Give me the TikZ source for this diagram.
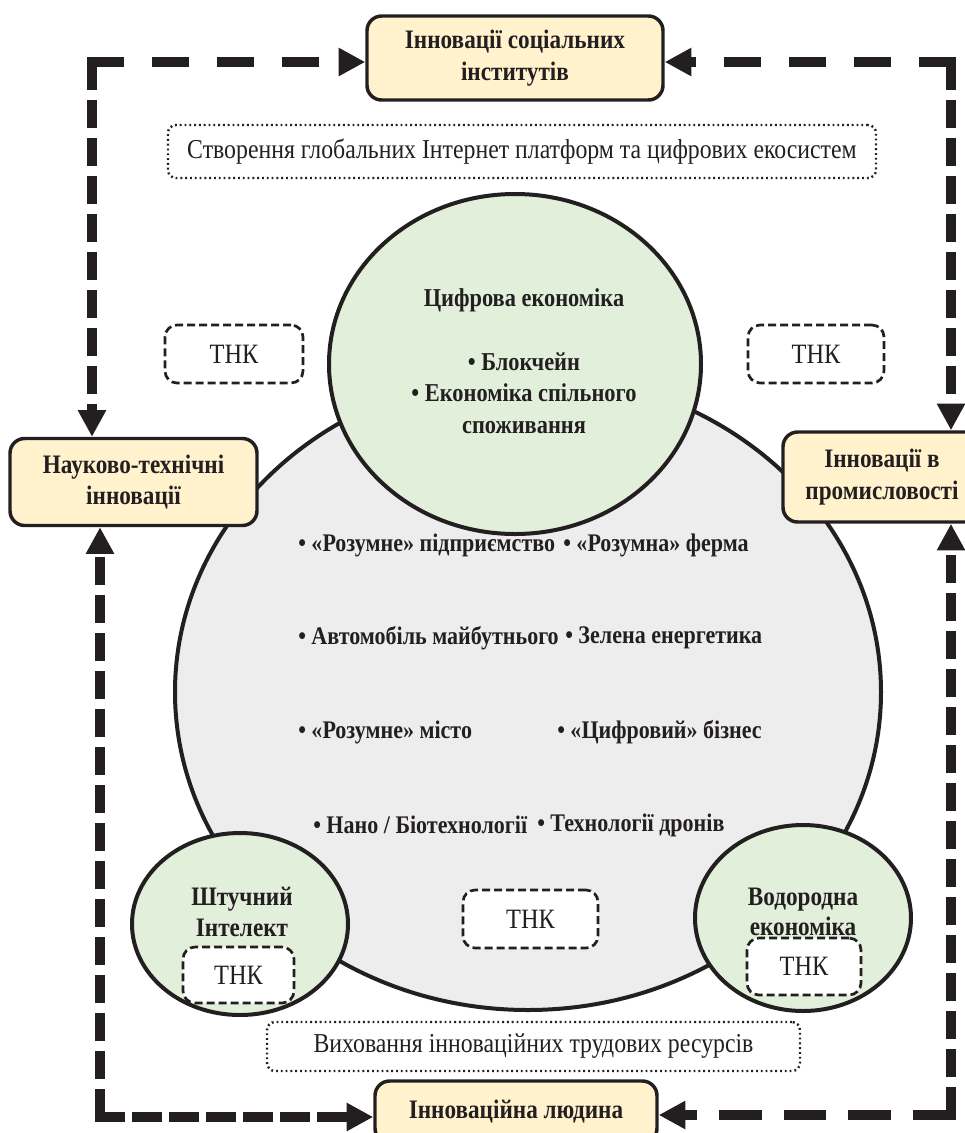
\documentclass[tikz,border=0pt]{standalone}
\usepackage{fontspec}
\setmainfont{Liberation Serif}[FakeStretch=0.87]
\usetikzlibrary{arrows.meta,calc,shapes.geometric}
\definecolor{ink}{HTML}{231F20}
\definecolor{cream}{HTML}{FFF2CC}
\definecolor{mint}{HTML}{E2EFDA}
\definecolor{lgray}{HTML}{EDEDED}
\begin{document}
\begin{tikzpicture}[x=0.75pt,y=-0.75pt,
  every node/.style={text=ink, inner sep=0pt},
  ybox/.style={draw=ink, line width=2.6pt, fill=cream, rounded corners=11pt, align=center,
    font=\bfseries\fontsize{20}{23.5}\selectfont},
  tnk/.style={draw=ink, line width=2pt, dash pattern=on 6pt off 3pt, fill=white, rounded corners=9pt,
    font=\fontsize{21}{24}\selectfont},
  dotbox/.style={draw=ink, line width=1.8pt, dash pattern=on 1.4pt off 2.2pt, rounded corners=6pt,
    font=\fontsize{20.5}{24}\selectfont},
  blob/.style={draw=ink, line width=3pt, ellipse},
  item/.style={anchor=west, font=\bfseries\fontsize{19}{22}\selectfont},
  ctext/.style={align=center, font=\bfseries\fontsize{19.3}{23.6}\selectfont},
  stext/.style={align=center, font=\bfseries\fontsize{20}{23}\selectfont},
  flow/.style={draw=ink, line width=7pt, -{Triangle[length=20pt,width=20pt]}},
  hdash/.style={dash pattern=on 27.75pt off 21pt},
  vdash/.style={dash pattern=on 21pt off 7.5pt},
]
\clip (0,0) rectangle (965,1133);

% big grey circle and green circles
\node[blob, fill=lgray, minimum width=529.5pt, minimum height=477pt] (core) at (528,692) {};
\node[blob, fill=mint, minimum width=279pt, minimum height=255pt] (digital) at (515,364) {};
\node[blob, fill=mint, minimum width=162pt, minimum height=136.5pt] (ai) at (240,924) {};
\node[blob, fill=mint, minimum width=162pt, minimum height=139.5pt] (hydro) at (803,918) {};

% texts in circles
\node[ctext] (digitalT) at (524,300) {Цифрова економіка};
\node[ctext] (digitalL) at (524,393) {• Блокчейн\\• Економіка спільного\\споживання};
\node[stext] (aiT) at (242,912) {Штучний\\Інтелект};
\node[stext] (hydroT) at (803,912) {Водородна\\економіка};

\node[item] (i1) at (298,545) {• «Розумне» підприємство};
\node[item] (i2) at (563,545) {• «Розумна» ферма};
\node[item] (i3) at (298,638) {• Автомобіль майбутнього};
\node[item] (i4) at (565,638) {• Зелена енергетика};
\node[item] (i5) at (298,732) {• «Розумне» місто};
\node[item] (i6) at (557,732) {• «Цифровий» бізнес};
\node[item] (i7) at (313,825) {• Нано / Біотехнології};
\node[item] (i8) at (537,825) {• Технології дронів};

% TNK boxes
\node[tnk, minimum width=103.5pt, minimum height=43.5pt] (tnk1) at (234,354) {ТНК};
\node[tnk, minimum width=102pt, minimum height=43.5pt] (tnk2) at (816,354) {ТНК};
\node[tnk, minimum width=101.25pt, minimum height=43.5pt] (tnk3) at (530.5,919) {ТНК};
\node[tnk, minimum width=83.25pt, minimum height=42pt] (tnk4) at (238.5,975) {ТНК};
\node[tnk, minimum width=85.5pt, minimum height=42.75pt] (tnk5) at (804,966.5) {ТНК};

% dotted boxes
\node[dotbox, minimum width=531pt, minimum height=39.75pt] (platf) at (522,151.5)
  {Створення глобальних Інтернет платформ та цифрових екосистем};
\node[dotbox, minimum width=399.75pt, minimum height=36.75pt] (educ) at (533.5,1046.5)
  {Виховання інноваційних трудових ресурсів};

% yellow boxes
\node[ybox, minimum width=222pt, minimum height=63pt] (social) at (515,58)
  {Інновації соціальних\\інститутів};
\node[ybox, minimum width=185.25pt, minimum height=65.25pt] (science) at (133.5,482)
  {Науково-технічні\\інновації};
\node[ybox, minimum width=148.5pt, minimum height=67.5pt] (industry) at (882,477)
  {Інновації в\\промисловості};
\node[ybox, minimum width=211.5pt, minimum height=46.5pt] (human) at (516,1112)
  {Інноваційна людина};

% corners of the feedback loop
\coordinate (cTL) at (92,62);
\coordinate (cTR) at (951,62);
\coordinate (cBL) at (100,1117);
\coordinate (cBR) at (951,1115);

% connectors
\draw[flow, hdash] ($(cTL)+(-4.7,0)$) -- (cTL -| social.west);
\draw[flow, vdash] (cTL) -- (cTL |- science.north);
\draw[flow, hdash] ($(cTR)+(4.7,0)$) -- (cTR -| social.east);
\draw[flow, vdash] (cTR) -- (cTR |- industry.north);
\draw[flow, dash pattern=on 22.5pt off 5.25pt] ($(cBL)+(-4.7,0)$) -- (cBL -| human.west);
\draw[flow, vdash] (cBL) -- (cBL |- science.south);
\draw[flow, dash pattern=on 32pt off 16.5pt] ($(cBR)+(4.7,0)$) -- (cBR -| human.east);
\draw[flow, vdash] (cBR) -- (cBR |- industry.south);
\end{tikzpicture}
\end{document}
